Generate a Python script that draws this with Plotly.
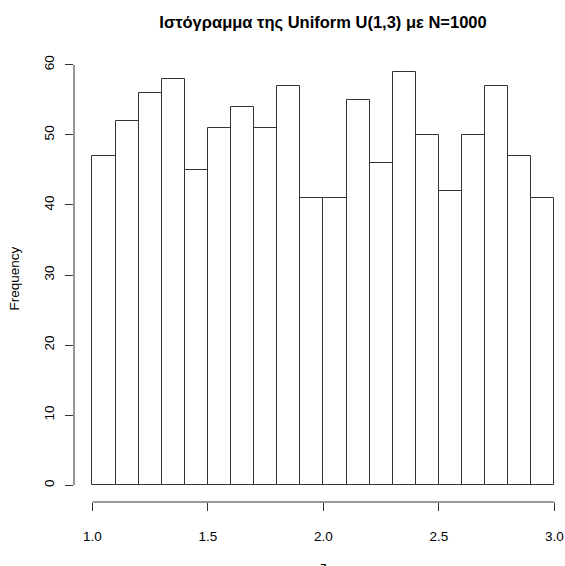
import plotly.graph_objects as go

bin_left = [1.0, 1.1, 1.2, 1.3, 1.4, 1.5, 1.6, 1.7, 1.8, 1.9,
            2.0, 2.1, 2.2, 2.3, 2.4, 2.5, 2.6, 2.7, 2.8, 2.9]
counts = [47, 52, 56, 58, 45, 51, 54, 51, 57, 41,
          41, 55, 46, 59, 50, 42, 50, 57, 47, 41]
bin_width = 0.1
x_ticks = [1.0, 1.5, 2.0, 2.5, 3.0]
x_tick_text = ["1.0", "1.5", "2.0", "2.5", "3.0"]
y_ticks = [0, 10, 20, 30, 40, 50, 60]

title_text = "Ιστόγραμμα της Uniform U(1,3) με N=1000"
x_label = "z"
y_label = "Frequency"

FONT = "Liberation Sans, Arial, Helvetica, sans-serif"
LINE = "#333333"

W, H = 565, 566
L, T, B = 74, 48, 64
px_per_x = 231.0
x_lo = 0.92
x_hi = x_lo + (W - L) / px_per_x

fig = go.Figure()
fig.add_trace(go.Bar(
    x=bin_left, y=counts, width=[bin_width] * len(bin_left), offset=0,
    marker=dict(color="white", line=dict(color=LINE, width=1)),
    showlegend=False, hoverinfo="x+y",
))

# detached R-style axis lines
fig.add_shape(type="line", xref="x", yref="y domain",
              x0=x_ticks[0], x1=x_ticks[-1], y0=0, y1=0,
              line=dict(color=LINE, width=1))
fig.add_shape(type="line", xref="x domain", yref="y",
              x0=0, x1=0, y0=y_ticks[0], y1=y_ticks[-1],
              line=dict(color=LINE, width=1))

fig.add_annotation(text=x_label, xref="x", yref="paper", x=2.0, y=0,
                   yanchor="middle", yshift=-64, showarrow=False,
                   font=dict(family=FONT, size=13.5, color="black"))
fig.add_annotation(text=y_label, xref="paper", yref="paper", x=0, y=0.4923,
                   xanchor="center", yanchor="middle", xshift=-60, textangle=-90,
                   showarrow=False, font=dict(family=FONT, size=13.5, color="black"))

fig.update_layout(
    template="none",
    width=W, height=H,
    margin=dict(l=L, r=0, t=T, b=B, pad=0),
    paper_bgcolor="white", plot_bgcolor="white",
    bargap=0,
    title=dict(text="<b>" + title_text + "</b>", xref="container", yref="container",
               x=323 / W, xanchor="center", y=1 - 22 / H, yanchor="middle",
               font=dict(family=FONT, size=16.5, color="black")),
    font=dict(family=FONT, size=13.5, color="black"),
    xaxis=dict(range=[x_lo, x_hi], tickmode="array", tickvals=x_ticks, ticktext=x_tick_text,
               ticks="outside", ticklen=8, tickwidth=1, tickcolor=LINE,
               showgrid=False, zeroline=False, showline=False, automargin=False,
               ticklabelstandoff=14, tickfont=dict(size=13.5)),
    yaxis=dict(range=[-2.4, 62.4], tickmode="array", tickvals=y_ticks,
               ticks="outside", ticklen=8, tickwidth=1, tickcolor=LINE,
               tickangle=-90, showgrid=False, zeroline=False, showline=False,
               automargin=False, ticklabelstandoff=6, tickfont=dict(size=13.5)),
)

fig.write_html("out.html", config={"displayModeBar": False},
               post_script="document.body.style.margin='0';")
